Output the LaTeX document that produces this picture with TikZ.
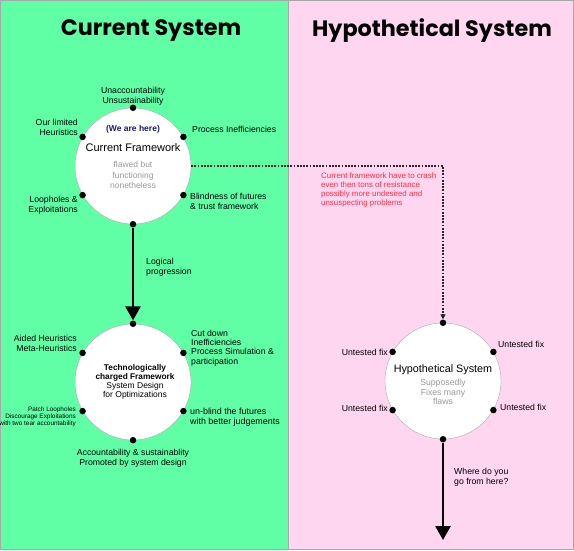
\documentclass[tikz,border=0pt]{standalone}
\usepackage{fontspec}
\setmainfont{Liberation Sans}
\newfontfamily\headfont{Poppins}
\usetikzlibrary{arrows.meta,positioning,calc}
\definecolor{mint}{HTML}{60FFA6}
\definecolor{blush}{HTML}{FFD6F0}
\definecolor{edgegrey}{HTML}{A8A8A8}
\definecolor{navy}{HTML}{1A1A70}
\definecolor{alarm}{HTML}{FF2E45}
\definecolor{faded}{HTML}{9A9A9A}

\begin{document}
\begin{tikzpicture}[x=1pt, y=-1pt,
  ring/.style={circle, draw=edgegrey, fill=white, minimum size=116pt, inner sep=0pt},
  pin/.style={circle, fill=black, minimum size=6.5pt, inner sep=0pt},
  note/.style={font=\fontsize{8.7}{9.8}\selectfont, inner sep=0pt},
  head/.style={font=\headfont\bfseries\fontsize{22.3}{26}\selectfont, inner sep=0pt},
  arr/.style={-{Triangle[length=14pt,width=15pt]}, line width=2.7pt},
  trail/.style={-{Triangle[length=5pt,width=5pt]}, line width=1.8pt, dash pattern=on 1.8pt off 1.4pt, black!85}
]
\useasboundingbox (0,0) rectangle (574,550);
\fill[mint] (0,0) rectangle (288,550);
\fill[blush] (288,0) rectangle (574,550);
\draw[edgegrey, line width=0.6pt] (0.3,0.3) rectangle (573.7,549.7);
\draw[edgegrey, line width=0.6pt] (288,0) -- (288,550);

\node[head] (curtitle) at (151,31) {Current System};
\node[head] (hyptitle) at (432,31) {Hypothetical System};

% current framework
\node[ring] (cur) at (133,166) {};
\foreach \a in {90,30,150,210,330,270}
  \node[pin] (cur-\a) at (cur.\a) {};
\node[note, align=center] (unacc) at (133,96) {Unaccountability\\Unsustainability};
\node[note, align=right, anchor=east] (ourlim) at (78,127) {Our limited\\Heuristics};
\node[note, font=\fontsize{8.5}{9.5}\selectfont\bfseries, text=navy] (wehere) at (133,129) {(We are here)};
\node[note, anchor=west] (procineff) at (192,129) {Process Inefficiencies};
\node[note, font=\fontsize{11}{13}\selectfont] (curname) at (133,148) {Current Framework};
\node[note, align=center, text=faded, font=\fontsize{8.5}{10.5}\selectfont] (flawed) at (133,175) {flawed but\\functioning\\nonetheless};
\node[note, align=right, anchor=east] (loop) at (78,205) {Loopholes \&\\Exploitations};
\node[note, align=left, anchor=west] (blind) at (190,201) {Blindness of futures\\\& trust framework};

% technologically charged framework
\node[ring] (tech) at (133,382) {};
\foreach \a in {90,30,150,210,330,270}
  \node[pin] (tech-\a) at (tech.\a) {};
\draw[arr] (cur-270) -- (tech-90);
\node[note, align=left, anchor=west] (logic) at (146,267) {Logical\\progression};
\node[note, align=right, anchor=east] (aided) at (77,343) {Aided Heuristics\\Meta-Heuristics};
\node[note, align=left, anchor=west, font=\fontsize{8.7}{9.2}\selectfont] (cutdown) at (191,348) {Cut down\\Inefficiencies\\Process Simulation \&\\participation};
\node[note, align=center, font=\fontsize{8.3}{8.8}\selectfont\bfseries] (techname) at (135,373) {Technologically\\charged Framework};
\node[note, align=center, font=\fontsize{8.5}{9.2}\selectfont] (sysdesign) at (135,391) {System Design\\for Optimizations};
\node[note, align=right, anchor=east, font=\fontsize{6.4}{7.2}\selectfont] (patch) at (76,417) {Patch Loopholes\\Discourage Exploitations\\with two tear accountability};
\node[note, align=left, anchor=west, font=\fontsize{8.9}{10}\selectfont] (unblind) at (190,417) {un-blind the futures\\with better judgements};
\node[note, align=center] (accprom) at (133,458) {Accountability \& sustainablity\\Promoted by system design};

% hypothetical system
\node[ring] (hyp) at (443,381) {};
\foreach \a in {90,30,150,210,330,270}
  \node[pin] (hyp-\a) at (hyp.\a) {};
\node[note, anchor=east] (fixa) at (388,352) {Untested fix};
\node[note, anchor=west] (fixb) at (498,344) {Untested fix};
\node[note, anchor=east] (fixc) at (388,408) {Untested fix};
\node[note, anchor=west] (fixd) at (500,407) {Untested fix};
\node[note, font=\fontsize{10.8}{12}\selectfont] (hypname) at (443,370) {Hypothetical System};
\node[note, align=center, text=faded] (supposed) at (443,392) {Supposedly\\Fixes many\\flaws};
\coordinate (hypend) at (443,540);
\draw[arr] (hyp-270) -- (hypend);
\node[note, align=left, anchor=west] (whereto) at (454,477) {Where do you\\go from here?};

\draw[trail] (cur.east) -| (hyp-90);
\node[note, align=left, anchor=west, text=alarm, font=\fontsize{7.9}{9.3}\selectfont] (crash) at (321,190) {Current framework have to crash\\even then tons of resistance\\possibly more undesired and\\unsuspecting problems};
\end{tikzpicture}
\end{document}
